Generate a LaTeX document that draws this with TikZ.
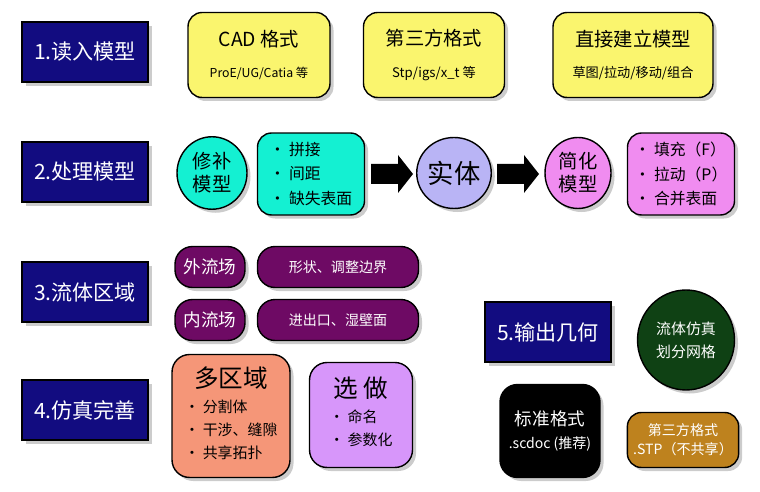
\documentclass[tikz,border=0pt]{standalone}
\usepackage{fontspec}
\setmainfont{Noto Sans CJK SC}
\usetikzlibrary{shadows,shapes.geometric}

\definecolor{navy}{RGB}{18,12,128}
\definecolor{ylw}{RGB}{250,245,110}
\definecolor{cyanish}{RGB}{20,240,210}
\definecolor{lilac}{RGB}{185,180,245}
\definecolor{pinkish}{RGB}{240,140,240}
\definecolor{plum}{RGB}{110,10,100}
\definecolor{salmon}{RGB}{245,150,120}
\definecolor{violetish}{RGB}{215,150,250}
\definecolor{forest}{RGB}{15,65,20}
\definecolor{ochre}{RGB}{190,130,30}

\tikzset{
  base/.style={draw=black, thick, drop shadow={shadow xshift=2pt, shadow yshift=-2pt, opacity=.4}, align=center},
  stage/.style={base, fill=navy, text=white, minimum width=2.52cm, minimum height=1.2cm, font=\fontsize{12}{14}\selectfont},
  card/.style={base, rounded corners=8pt, fill=ylw, minimum height=1.7cm, font=\fontsize{9}{12}\selectfont},
  blob/.style={base, ellipse, inner sep=0pt, font=\fontsize{11}{13}\selectfont},
  pill/.style={base, rounded corners=10pt, fill=plum, text=white, minimum height=0.82cm}
}
\newcommand\blockarrow[1]{\fill[black] (#1) ++(-21,-10) -- ++(27,0) -- ++(0,-9) -- ++(15,19) -- ++(-15,19) -- ++(0,-9) -- ++(-27,0) -- cycle;}

\begin{document}
\begin{tikzpicture}[x=0.02cm, y=-0.02cm]
    \useasboundingbox (0,0) rectangle (760,492);

    % 1. 读入模型
    \node[stage] (read) at (85,52) {1.读入模型};
    \node[card, minimum width=2.84cm] (cad) at (259,55) {\fontsize{11}{13}\selectfont CAD 格式\\[6pt] \fontsize{7}{9}\selectfont ProE/UG/Catia 等};
    \node[card, minimum width=2.82cm] (third) at (434,55) {\fontsize{11}{13}\selectfont 第三方格式\\[6pt] \fontsize{7.5}{9}\selectfont Stp/igs/x\_t 等};
    \node[card, minimum width=3.2cm] (direct) at (633,55) {\fontsize{11}{13}\selectfont 直接建立模型\\[6pt] \fontsize{7.5}{9}\selectfont 草图/拉动/移动/组合};

    % 2. 处理模型
    \node[stage] (proc) at (85,172) {2.处理模型};
    \node[blob, fill=cyanish, minimum width=1.4cm, minimum height=1.45cm] (repair) at (212,173) {修补\\模型};
    \node[base, rounded corners=8pt, fill=cyanish, minimum width=2.14cm, minimum height=1.64cm, align=left, font=\fontsize{9}{14}\selectfont] (fix) at (311,174) {· 拼接\\· 间距\\· 缺失表面};
    \coordinate (a1) at (392,174);
    \blockarrow{a1}
    \node[blob, fill=lilac, minimum width=1.44cm, minimum height=1.42cm, font=\fontsize{15}{17}\selectfont] (solid) at (454,173) {实体};
    \coordinate (a2) at (518,174);
    \blockarrow{a2}
    \node[blob, fill=pinkish, minimum width=1.32cm, minimum height=1.42cm] (simp) at (578,173) {简化\\模型};
    \node[base, rounded corners=8pt, fill=pinkish, minimum width=2.14cm, minimum height=1.64cm, align=left, font=\fontsize{9}{14}\selectfont] (ops) at (681,174) {· 填充（F）\\· 拉动（P）\\· 合并表面};

    % 3. 流体区域
    \node[stage] (fluid) at (85,292) {3.流体区域};
    \node[pill, minimum width=1.4cm, font=\fontsize{10}{12}\selectfont] (ext) at (210,267) {外流场};
    \node[pill, minimum width=3.22cm, font=\fontsize{8}{10}\selectfont] (extb) at (338,267) {形状、调整边界};
    \node[pill, minimum width=1.4cm, font=\fontsize{10}{12}\selectfont] (int) at (210,320) {内流场};
    \node[pill, minimum width=3.22cm, font=\fontsize{8}{10}\selectfont] (intb) at (338,320) {进出口、湿壁面};

    % 4. 仿真完善
    \node[stage] (refine) at (85,410) {4.仿真完善};
    \node[base, rounded corners=10pt, fill=salmon, minimum width=2.36cm, minimum height=2.46cm, font=\fontsize{8.5}{13}\selectfont] (multi) at (231,416) {\fontsize{14}{16}\selectfont 多区域\\[3pt] \begin{tabular}{@{}l@{}}· 分割体\\· 干涉、缝隙\\· 共享拓扑\end{tabular}};
    \node[base, rounded corners=10pt, fill=violetish, minimum width=2.06cm, minimum height=2.1cm, font=\fontsize{8.5}{13}\selectfont] (opt) at (361,415) {\fontsize{14}{16}\selectfont 选 做\\[3pt] \begin{tabular}{@{}l@{}}· 命名\\· 参数化\end{tabular}};

    % 5. 输出几何
    \node[stage] (out) at (548,332) {5.输出几何};
    \node[blob, fill=forest, text=white, minimum width=1.94cm, minimum height=2cm, font=\fontsize{8.5}{13}\selectfont] (mesh) at (686,340) {流体仿真\\划分网格};
    \node[base, rounded corners=10pt, fill=black, text=white, minimum width=2cm, minimum height=1.86cm, font=\fontsize{10}{13}\selectfont] (std) at (550,431) {标准格式\\{\fontsize{8}{10}\selectfont .scdoc (推荐)}};
    \node[base, rounded corners=8pt, fill=ochre, text=white, minimum width=2.2cm, minimum height=1.1cm, font=\fontsize{8}{11}\selectfont] (stp) at (683,440) {第三方格式\\.STP（不共享）};
\end{tikzpicture}
\end{document}
